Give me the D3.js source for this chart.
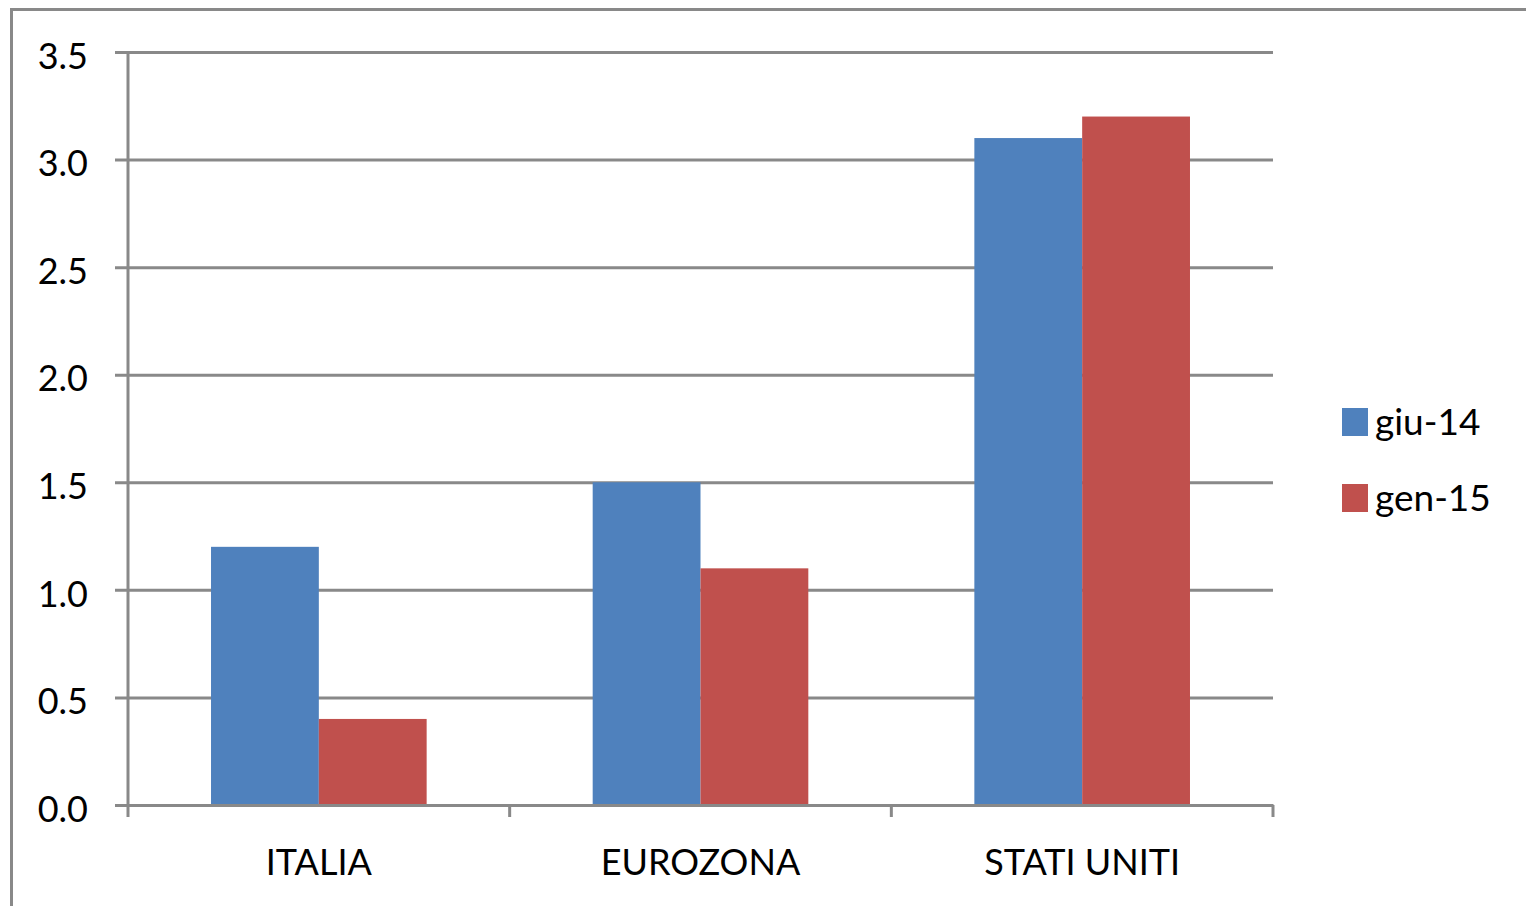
<!DOCTYPE html>
<html>
<head>
<meta charset="utf-8">
<script src="https://cdn.jsdelivr.net/npm/d3@7"></script>
<style>
  html, body { margin: 0; padding: 0; background: #fff; }
  svg { display: block; }
  text { font-family: Lato, "Open Sans", sans-serif; fill: #000; }
</style>
</head>
<body>
<svg id="chart" width="1526" height="906"></svg>
<script>
// Categories and series values
const categories = ["ITALIA", "EUROZONA", "STATI UNITI"];
const seriesNames = ["giu-14", "gen-15"];
const giu14 = [1.2, 1.5, 3.1];
const gen15 = [0.4, 1.1, 3.2];
const yTicks = [0, 0.5, 1.0, 1.5, 2.0, 2.5, 3.0, 3.5];
const colors = ["#4f81bd", "#c0504d"];

const svg = d3.select("#chart");
const gridColor = "#898989";

// Outer chart frame
svg.append("rect")
  .attr("x", 11.5).attr("y", 9.5)
  .attr("width", 1530).attr("height", 910)
  .attr("fill", "none").attr("stroke", gridColor).attr("stroke-width", 3);

const plot = { left: 128, right: 1273, top: 52, bottom: 805 };

const x = d3.scaleBand().domain(categories)
  .range([plot.left, plot.right]).paddingInner(0).paddingOuter(0);
const xInner = d3.scaleBand().domain(seriesNames)
  .range([0, x.bandwidth()]).paddingInner(0).paddingOuter(0.77);
const y = d3.scaleLinear().domain([0, 3.5]).range([plot.bottom, plot.top]);

// Horizontal gridlines with tick marks extending left
const yAxis = d3.axisLeft(y).tickValues(yTicks)
  .tickSize(-(plot.right - plot.left)).tickSizeOuter(0)
  .tickFormat(d3.format(".1f"));
const gy = svg.append("g").attr("transform", `translate(${plot.left},0)`).call(yAxis);
gy.select(".domain").remove();
gy.selectAll(".tick line")
  .attr("x1", -13)
  .attr("stroke", gridColor).attr("stroke-width", 3);
gy.selectAll(".tick text")
  .attr("x", -40).attr("dy", "0.45em")
  .style("font-size", "36px").style("font-family", "Lato, 'Open Sans', sans-serif")
  .attr("fill", "#000");

// Bars
const data = categories.map((c, i) => ({ cat: c, vals: [giu14[i], gen15[i]] }));
const groups = svg.append("g").selectAll("g").data(data).join("g")
  .attr("transform", d => `translate(${x(d.cat)},0)`);
groups.selectAll("rect")
  .data(d => d.vals.map((v, j) => ({ name: seriesNames[j], v, j })))
  .join("rect")
  .attr("x", d => xInner(d.name))
  .attr("width", xInner.bandwidth())
  .attr("y", d => y(d.v))
  .attr("height", d => y(0) - y(d.v))
  .attr("fill", d => colors[d.j]);

// Vertical axis line
svg.append("line")
  .attr("x1", plot.left).attr("x2", plot.left)
  .attr("y1", plot.top).attr("y2", plot.bottom + 12)
  .attr("stroke", gridColor).attr("stroke-width", 3);

// Category axis
const xAxis = d3.axisBottom(x).tickSize(0).tickSizeOuter(0);
const gx = svg.append("g").attr("transform", `translate(0,${plot.bottom})`).call(xAxis);
gx.select(".domain").attr("stroke", gridColor).attr("stroke-width", 3);
gx.selectAll(".tick text")
  .attr("y", 70).attr("dy", "0")
  .style("font-size", "36px").style("font-family", "Lato, 'Open Sans', sans-serif")
  .attr("fill", "#000");
// Category boundary ticks
const boundaries = categories.map(c => x(c) + x.bandwidth());
gx.selectAll(".bound").data(boundaries).join("line")
  .attr("x1", d => d).attr("x2", d => d)
  .attr("y1", 0).attr("y2", 12)
  .attr("stroke", gridColor).attr("stroke-width", 3);

// Legend
const legend = svg.append("g").attr("transform", "translate(1342,0)");
const legendY = [422, 498];
seriesNames.forEach((name, i) => {
  legend.append("rect")
    .attr("x", 0).attr("y", legendY[i] - 14)
    .attr("width", 26).attr("height", 28)
    .attr("fill", colors[i]);
  legend.append("text")
    .attr("x", 33).attr("y", legendY[i]).attr("dy", "0.36em")
    .style("font-size", "37px")
    .text(name);
});
</script>
</body>
</html>
